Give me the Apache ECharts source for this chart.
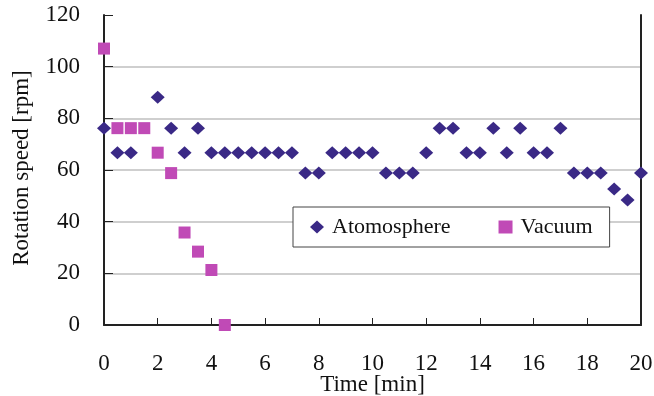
<!DOCTYPE html>
<html>
<head>
<meta charset="utf-8">
<script src="https://cdn.jsdelivr.net/npm/echarts@6/dist/echarts.min.js"></script>
<style>
  html, body { margin: 0; padding: 0; background: #fff; }
  #chart { width: 654px; height: 396px; }
</style>
</head>
<body>
<div id="chart"></div>
<script>
// time [min] and rotation speed [rpm]
const atmoTime = [0, 0.5, 1, 2, 2.5, 3, 3.5, 4, 4.5, 5, 5.5, 6, 6.5, 7, 7.5, 8, 8.5, 9, 9.5, 10,
  10.5, 11, 11.5, 12, 12.5, 13, 13.5, 14, 14.5, 15, 15.5, 16, 16.5, 17, 17.5, 18, 18.5, 19, 19.5, 20]
const atmoSpeed = [76.2, 66.7, 66.7, 88.2, 76.2, 66.7, 76.2, 66.7, 66.7, 66.7, 66.7, 66.7, 66.7, 66.7, 58.8, 58.8, 66.7, 66.7, 66.7, 66.7,
  58.8, 58.8, 58.8, 66.7, 76.2, 76.2, 66.7, 66.7, 76.2, 66.7, 76.2, 66.7, 66.7, 76.2, 58.8, 58.8, 58.8, 52.6, 48.4, 58.8]
const vacTime = [0, 0.5, 1, 1.5, 2, 2.5, 3, 3.5, 4, 4.5]
const vacSpeed = [107, 76.2, 76.2, 76.2, 66.7, 58.8, 35.8, 28.4, 21.3, 0]

const xTicks = { min: 0, max: 20, interval: 2 }
const yTicks = { min: 0, max: 120, interval: 20 }

const font = 'Liberation Serif'
const axisColor = '#222'

const chart = echarts.init(document.getElementById('chart'))

const option = {
  animation: false,
  textStyle: { fontFamily: font },
  grid: { left: 104, right: 13, top: 15, bottom: 71, containLabel: false, outerBoundsMode: 'none' },
  legend: {
    left: 293,
    top: 207,
    padding: [9, 17, 9, 17],
    itemGap: 48,
    itemWidth: 14,
    itemHeight: 13,
    backgroundColor: '#fff',
    borderColor: '#444',
    borderWidth: 1,
    borderRadius: 0,
    textStyle: { fontFamily: font, fontSize: 22, color: '#111', padding: [0, 0, 0, 3] },
    data: [
      { name: 'Atomosphere', icon: 'diamond' },
      { name: 'Vacuum', icon: 'rect' }
    ]
  },
  xAxis: {
    type: 'value',
    min: xTicks.min,
    max: xTicks.max,
    interval: xTicks.interval,
    name: 'Time [min]',
    nameLocation: 'middle',
    nameGap: 48,
    nameMoveOverlap: false,
    nameTextStyle: { fontFamily: font, fontSize: 23, color: '#111' },
    axisLine: { show: true, lineStyle: { color: axisColor, width: 2 } },
    axisTick: { show: true, inside: true, length: 7, lineStyle: { color: axisColor, width: 1 } },
    axisLabel: { fontFamily: font, fontSize: 23, color: '#111', margin: 27 },
    splitLine: { show: false }
  },
  yAxis: [
    {
      type: 'value',
      min: yTicks.min,
      max: yTicks.max,
      interval: yTicks.interval,
      name: 'Rotation speed [rpm]',
      nameLocation: 'middle',
      nameGap: 71,
      nameMoveOverlap: false,
      nameTextStyle: { fontFamily: font, fontSize: 23, color: '#111', padding: [0, 0, 0, 4] },
      axisLine: { show: true, lineStyle: { color: axisColor, width: 2 } },
      axisTick: { show: true, inside: true, length: 9, lineStyle: { color: axisColor, width: 1 } },
      axisLabel: { fontFamily: font, fontSize: 23, color: '#111', margin: 24, padding: [8, 0, 0, 0] },
      splitLine: {
        show: true,
        lineStyle: {
          color: ['#cfcfcf', '#cfcfcf', '#cfcfcf', '#cfcfcf', '#cfcfcf', '#cfcfcf', 'rgba(0,0,0,0)'],
          width: 2
        }
      }
    },
    {
      type: 'value',
      position: 'right',
      min: yTicks.min,
      max: yTicks.max,
      interval: yTicks.interval,
      axisLine: { show: true, lineStyle: { color: axisColor, width: 2 } },
      axisTick: { show: false },
      axisLabel: { show: false },
      splitLine: { show: false }
    }
  ],
  series: [
    {
      name: 'Atomosphere',
      type: 'scatter',
      symbol: 'diamond',
      symbolSize: [14, 13],
      itemStyle: { color: '#3a2986', opacity: 1 },
      data: atmoTime.map((t, i) => [t, atmoSpeed[i]])
    },
    {
      name: 'Vacuum',
      type: 'scatter',
      symbol: 'rect',
      symbolSize: 12,
      itemStyle: { color: '#c04ab6', opacity: 1 },
      data: vacTime.map((t, i) => [t, vacSpeed[i]])
    }
  ]
}

chart.setOption(option)
</script>
</body>
</html>
